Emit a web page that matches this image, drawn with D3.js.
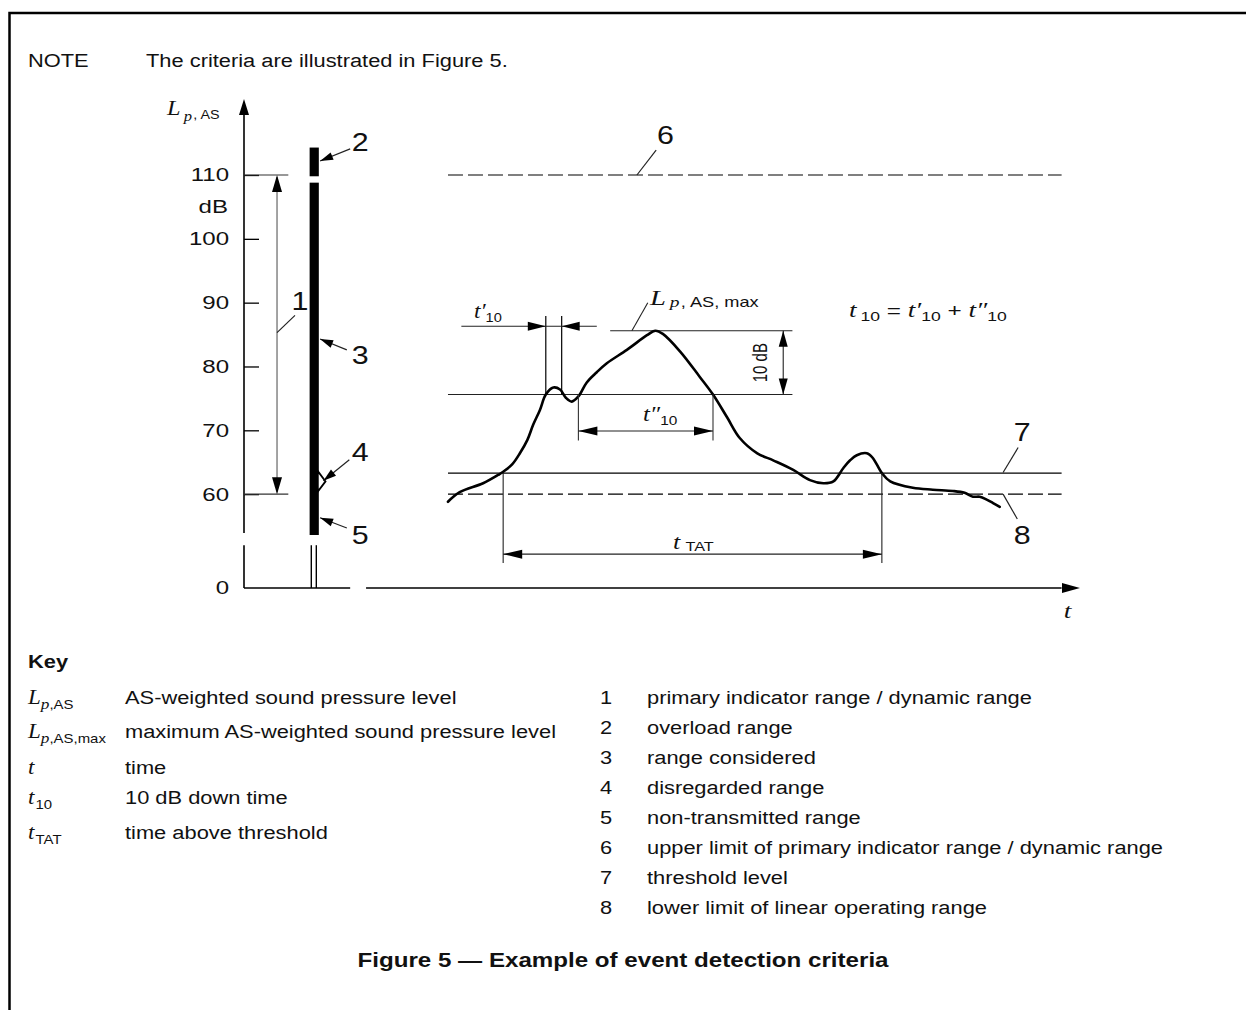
<!DOCTYPE html>
<html>
<head>
<meta charset="utf-8">
<script src="https://cdn.jsdelivr.net/npm/d3@7"></script>
<style>
  body { margin: 0; background: #fff; }
  svg { display: block; font-family: "Liberation Sans", Arial, sans-serif; }
  .it { font-family: "Liberation Serif", "Times New Roman", serif; font-style: italic; }
</style>
</head>
<body>
<svg id="fig" width="1246" height="1010"></svg>
<script>
// event level-time history (t in arbitrary units, L in dB)
const curveT = [24.4,25.8,28.6,30.4,31.0,32.1,33.0,33.9,34.6,35.4,36.1,37.0,37.8,38.5,39.2,40.0,41.0,42.2,43.4,45.8,48.2,49.2,50.1,52.2,54.5,56.1,57.8,59.3,61.4,63.3,65.7,67.7,69.3,70.5,71.7,72.5,73.3,74.5,75.2,76.3,77.3,80.0,82.4,84.8,86.2,87.2,88.0,88.9,89.6,90.4];
const curveL = [58.8,60.3,61.7,63.0,63.5,64.7,66.4,68.5,70.9,73.2,75.6,76.7,76.4,75.1,74.5,75.3,77.5,79.1,80.5,82.6,84.9,85.6,85.1,82.3,78.4,75.6,72.0,68.8,66.4,65.3,63.8,62.2,61.7,62.0,64.1,65.3,66.1,66.4,65.7,63.3,62.0,61.0,60.7,60.5,60.2,59.6,59.6,59.1,58.6,58.0];

const yTicks = [0, 60, 70, 80, 90, 100, 110];
const upperLimit = 110;          // 6
const threshold = 63.3;          // 7
const lowerLimit = 60;           // 8
const lmax = 85.6;
const downLevel = lmax - 10;

const overloadRange = [109.8, 114.3];     // 2
const consideredRange = [53.6, 108.8];    // 3
const disregardedLevel = 62.0;            // 4
const nonTransmitted = [0, 52.0];         // 5

const tPrime10 = [36.1, 38.0];
const tDouble10 = [40.0, 56.1];
const tTat = [31.0, 76.3];

const keySymbols = [['L', 'p,AS'], ['L', 'p,AS,max'], ['t', ''], ['t', '10'], ['t', 'TAT']];
const keyTexts = ['AS-weighted sound pressure level', 'maximum AS-weighted sound pressure level', 'time', '10 dB down time', 'time above threshold'];
const keyNumbers = ['1', '2', '3', '4', '5', '6', '7', '8'];
const keyNumberTexts = [
  'primary indicator range / dynamic range',
  'overload range',
  'range considered',
  'disregarded range',
  'non-transmitted range',
  'upper limit of primary indicator range / dynamic range',
  'threshold level',
  'lower limit of linear operating range'
];

// callouts: leader from -> to (arrow at "to" when arrow), label centre at "at"
const callouts = [
  { n: '1', from: [3.95, 85.3], to: [6.1, 88.0], at: [6.7, 90.4], arrow: false },
  { n: '2', from: [12.7, 114.1], to: [9.1, 112.2], at: [13.9, 115.2], arrow: true },
  { n: '3', from: [12.3, 82.6], to: [9.1, 84.3], at: [13.9, 81.8], arrow: true },
  { n: '4', from: [12.6, 65.4], to: [9.5, 62.1], at: [13.9, 66.7], arrow: true },
  { n: '5', from: [12.3, 54.7], to: [9.1, 56.3], at: [13.9, 53.6], arrow: true },
  { n: '6', from: [47.0, 110], to: [49.3, 113.9], at: [50.4, 116.3], arrow: false },
  { n: '7', from: [90.8, 63.4], to: [92.6, 67.3], at: [93.1, 69.8], arrow: false },
  { n: '8', from: [90.8, 60.0], to: [92.5, 56.1], at: [93.1, 53.6], arrow: false }
];

const SX = 1.15;   // page text is drawn a bit wide
const SXD = 1.3;   // figure text even wider
const ink = '#111';

const svg = d3.select('#fig');

const x = d3.scaleLinear().domain([0, 100]).range([244, 1080]);
const y = d3.scaleLinear().domain([0, 46, 110]).range([588, 583.5, 175]);

// frame
svg.append('path')
  .attr('d', 'M9.5,1010 V13 H1246')
  .attr('fill', 'none').attr('stroke', '#000').attr('stroke-width', 2.5);

function rich(g, px, py, parts, sx, anchor) {
  const t = g.append('text')
    .attr('transform', `translate(${px},${py}) scale(${sx},1)`)
    .attr('text-anchor', anchor || 'start')
    .attr('fill', ink);
  parts.forEach(p => {
    const s = t.append('tspan').text(p.s).attr('font-size', p.size || 19);
    if (p.it) s.attr('class', 'it');
    if (p.dy) s.attr('dy', p.dy);
    if (p.dx) s.attr('dx', p.dx);
    if (p.bold) s.attr('font-weight', 'bold');
  });
  return t;
}

function arrowHead(g, tx, ty, fx, fy, len, hw) {
  const a = Math.atan2(ty - fy, tx - fx);
  const bx = tx - len * Math.cos(a), by = ty - len * Math.sin(a);
  const nx = -Math.sin(a) * hw, ny = Math.cos(a) * hw;
  g.append('path')
    .attr('d', `M${tx},${ty} L${bx + nx},${by + ny} L${bx - nx},${by - ny} Z`)
    .attr('fill', '#000');
}

function seg(g, x1, y1, x2, y2, w, col) {
  return g.append('line')
    .attr('x1', x1).attr('y1', y1).attr('x2', x2).attr('y2', y2)
    .attr('stroke', col || '#000').attr('stroke-width', w || 1.2);
}

// note line
rich(svg, 28, 67, [{ s: 'NOTE' }], SX);
rich(svg, 146, 67, [{ s: 'The criteria are illustrated in Figure 5.' }], SX);

const fig = svg.append('g');

// y axis with a break
const yGap = [52.0, 53.9];
const xGap = [12.7, 14.6];
const yTop = 121.9, yArrowBase = 119.4;
seg(fig, x(0), y(0), x(0), y(yGap[0]), 1.6);
seg(fig, x(0), y(yGap[1]), x(0), y(yArrowBase), 1.6);
arrowHead(fig, x(0), y(yTop), x(0), y(0), y(yArrowBase) - y(yTop), 5);

// x axis with a break
seg(fig, x(0), y(0), x(xGap[0]), y(0), 1.6);
seg(fig, x(xGap[1]), y(0), x(97.8), y(0), 1.6);
arrowHead(fig, x(100), y(0), x(0), y(0), 18, 5);

const yAxis = d3.axisLeft(y)
  .tickValues(yTicks)
  .tickSizeInner(-15)
  .tickSizeOuter(0)
  .tickPadding(15)
  .tickFormat(d3.format('d'));
const gy = fig.append('g')
  .attr('transform', `translate(${x(0)},0)`)
  .call(yAxis);
gy.attr('font-family', null).attr('font-size', null);
gy.select('.domain').remove();
gy.selectAll('.tick line').attr('stroke', '#000').attr('stroke-width', 1.3);
gy.selectAll('.tick').filter(d => d === 0).select('line').remove();
gy.selectAll('.tick text')
  .attr('font-size', 18.5)
  .attr('fill', ink)
  .attr('x', -15 / SXD)
  .attr('transform', `scale(${SXD},1)`);

rich(fig, x(0) - 16, y(105) + 6.5, [{ s: 'dB', size: 18.5 }], SXD, 'end');

// y axis title
rich(fig, 167, 115, [
  { s: 'L', it: true, size: 22 },
  { s: 'p', it: true, size: 15, dx: 3, dy: 6 },
  { s: ', AS', size: 13, dx: 1, dy: -2 }
], SXD * 0.85);

// t axis label
rich(fig, x(98.5), y(0) + 30, [{ s: 't', it: true, size: 21 }], SXD, 'middle');

// dimension 1 and its extension lines
[upperLimit, lowerLimit].forEach(v => seg(fig, x(0), y(v), x(5.3), y(v), 1.2, '#333'));
seg(fig, x(3.95), y(upperLimit) + 2, x(3.95), y(lowerLimit) - 2, 1.2, '#666');
arrowHead(fig, x(3.95), y(upperLimit), x(3.95), y(lowerLimit), 17, 5);
arrowHead(fig, x(3.95), y(lowerLimit), x(3.95), y(upperLimit), 17, 5);

// indicator bar
const barX0 = x(7.85), barX1 = x(8.95);
fig.append('rect')
  .attr('x', barX0).attr('width', barX1 - barX0)
  .attr('y', y(overloadRange[1])).attr('height', y(overloadRange[0]) - y(overloadRange[1]))
  .attr('fill', '#000');
fig.append('rect')
  .attr('x', barX0).attr('width', barX1 - barX0)
  .attr('y', y(consideredRange[1])).attr('height', y(consideredRange[0]) - y(consideredRange[1]))
  .attr('fill', '#000');
fig.append('path')
  .attr('d', `M${barX1 - 1},${y(disregardedLevel + 1.6)} L${x(9.75)},${y(disregardedLevel)} L${barX1 - 1},${y(disregardedLevel - 1.6)} Z`)
  .attr('fill', '#fff').attr('stroke', '#000').attr('stroke-width', 1.8);
[8.05, 8.65].forEach(t => seg(fig, x(t), y(nonTransmitted[0]), x(t), y(nonTransmitted[1]), 1.4));

// reference levels 6, 7, 8
const lineStart = 24.4, lineEnd = 97.8;
const refLines = [
  { L: upperLimit, dash: '15,5' },
  { L: threshold, dash: null },
  { L: lowerLimit, dash: '15,5' }
];
fig.selectAll('.ref').data(refLines).enter().append('line')
  .attr('class', 'ref')
  .attr('x1', x(lineStart)).attr('x2', x(lineEnd))
  .attr('y1', d => y(d.L)).attr('y2', d => y(d.L))
  .attr('stroke', '#000').attr('stroke-width', 1.2)
  .attr('stroke-dasharray', d => d.dash);

// level lines for t10
seg(fig, x(lineStart), y(downLevel), x(65.6), y(downLevel), 1.1, '#222');
seg(fig, x(43.8), y(lmax), x(65.6), y(lmax), 1.1, '#222');

// the event curve
const line = d3.line()
  .x(d => x(d[0])).y(d => y(d[1]))
  .curve(d3.curveCatmullRom.alpha(0.5));
fig.append('path')
  .datum(d3.zip(curveT, curveL))
  .attr('d', line)
  .attr('fill', 'none').attr('stroke', '#000').attr('stroke-width', 2.6)
  .attr('stroke-linejoin', 'round').attr('stroke-linecap', 'round');

// t'10 : arrows from outside
const tpL = 86.3;
tPrime10.forEach(t => seg(fig, x(t), y(87.9), x(t), y(downLevel), 1.2));
seg(fig, x(26.0), y(tpL), x(42.2), y(tpL), 1.1, '#222');
arrowHead(fig, x(tPrime10[0]), y(tpL), x(26.0), y(tpL), 18, 4.5);
arrowHead(fig, x(tPrime10[1]), y(tpL), x(42.2), y(tpL), 18, 4.5);
rich(fig, 474, 318, [
  { s: 't′', it: true, size: 20 },
  { s: '10', size: 12.5, dy: 4 }
], SXD * 0.9);

// t''10
const tdL = 69.9;
tDouble10.forEach(t => seg(fig, x(t), y(downLevel), x(t), y(68.4), 1.1, '#333'));
seg(fig, x(tDouble10[0]), y(tdL), x(tDouble10[1]), y(tdL), 1.1, '#222');
arrowHead(fig, x(tDouble10[0]), y(tdL), x(tDouble10[1]), y(tdL), 19, 4.5);
arrowHead(fig, x(tDouble10[1]), y(tdL), x(tDouble10[0]), y(tdL), 19, 4.5);
rich(fig, 643, 421, [
  { s: 't″', it: true, size: 20 },
  { s: '10', size: 12.5, dy: 4 }
], SXD * 0.95);

// 10 dB
const tdb = 64.5;
seg(fig, x(tdb), y(lmax), x(tdb), y(downLevel), 1.1, '#222');
arrowHead(fig, x(tdb), y(lmax), x(tdb), y(downLevel), 16, 4.5);
arrowHead(fig, x(tdb), y(downLevel), x(tdb), y(lmax), 16, 4.5);
fig.append('text')
  .attr('transform', `translate(${x(62.0) + 5},${y(80.6)}) rotate(-90) scale(1,${SXD})`)
  .attr('text-anchor', 'middle').attr('font-size', 15).attr('fill', ink)
  .text('10 dB');

// Lmax label
seg(fig, x(46.4), y(lmax), x(48.3), y(90.0), 1.1, '#222');
rich(fig, 650, 305, [
  { s: 'L', it: true, size: 22 },
  { s: 'p', it: true, size: 15, dx: 3, dy: 2 },
  { s: ', AS, max', size: 14, dx: 1 }
], SXD);

// tTAT
const ttL = 50.6;
tTat.forEach(t => seg(fig, x(t), y(threshold), x(t), y(49.2), 1.1, '#222'));
seg(fig, x(tTat[0]), y(ttL), x(tTat[1]), y(ttL), 1.1, '#222');
arrowHead(fig, x(tTat[0]), y(ttL), x(tTat[1]), y(ttL), 19, 4.5);
arrowHead(fig, x(tTat[1]), y(ttL), x(tTat[0]), y(ttL), 19, 4.5);
rich(fig, 673, 549, [
  { s: 't', it: true, size: 20 },
  { s: 'TAT', size: 12.5, dx: 4, dy: 2 }
], SXD);

// formula
rich(fig, 849, 317, [
  { s: 't', it: true, size: 20 },
  { s: '10', size: 13, dx: 3, dy: 4 },
  { s: ' = ', size: 18, dy: -4 },
  { s: 't′', it: true, size: 20 },
  { s: '10', size: 13, dy: 4 },
  { s: ' + ', size: 18, dy: -4 },
  { s: 't″', it: true, size: 20 },
  { s: '10', size: 13, dy: 4 }
], SXD * 1.04);

// callouts
callouts.forEach(c => {
  seg(fig, x(c.from[0]), y(c.from[1]), x(c.to[0]), y(c.to[1]), 1.2, '#222');
  if (c.arrow) arrowHead(fig, x(c.to[0]), y(c.to[1]), x(c.from[0]), y(c.from[1]), 13, 4);
  rich(fig, x(c.at[0]), y(c.at[1]) + 9.5, [{ s: c.n, size: 26 }], SXD * 0.9, 'middle');
});

// key
const key = svg.append('g');
rich(key, 28, 668, [{ s: 'Key', bold: true }], SX);
const keyRowsY = [704, 738, 774, 804, 839];
keySymbols.forEach((sym, i) => {
  const parts = [{ s: sym[0], it: true, size: 20 }];
  if (sym[1].startsWith('p')) {
    parts.push({ s: 'p', it: true, size: 15, dy: 5 });
    parts.push({ s: sym[1].slice(1), size: 13 });
  } else if (sym[1]) {
    parts.push({ s: sym[1], size: 13, dy: 5, dx: 1 });
  }
  rich(key, 28, keyRowsY[i], parts, SX);
  rich(key, 125, keyRowsY[i], [{ s: keyTexts[i] }], SX);
});
keyNumbers.forEach((n, i) => {
  const by = 704 + i * 30;
  rich(key, 600, by, [{ s: n }], SX);
  rich(key, 647, by, [{ s: keyNumberTexts[i] }], SX);
});

// caption
rich(svg, 623, 967, [{ s: 'Figure 5 — Example of event detection criteria', bold: true, size: 20 }], SX * 1.05, 'middle');
</script>
</body>
</html>
